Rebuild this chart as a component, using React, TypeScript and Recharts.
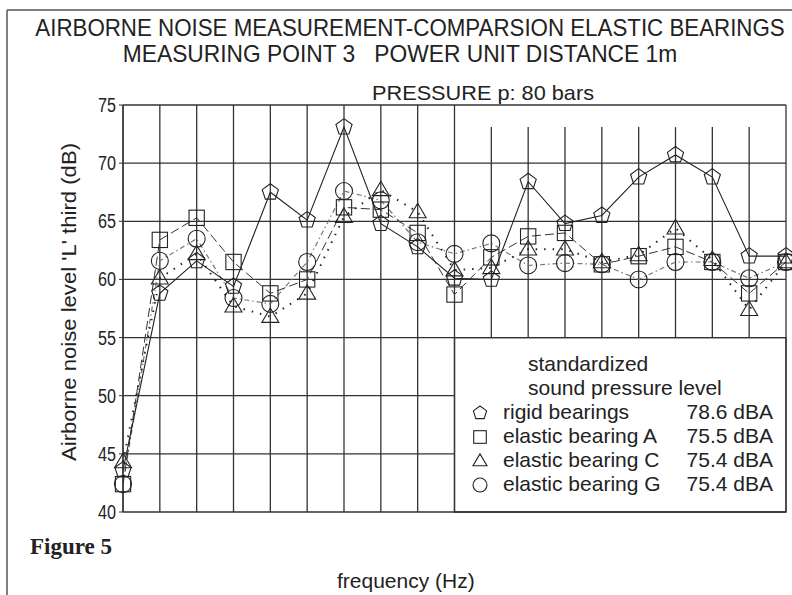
import React from 'react';
import { LineChart, Line, XAxis, YAxis, ReferenceLine, ReferenceArea } from 'recharts';

// third-octave band index (frequency axis is unlabeled in the reference)
const bands = ['1', '2', '3', '4', '5', '6', '7', '8', '9', '10', '11', '12', '13', '14', '15', '16', '17', '18', '19'];

const rigid = [43.6, 58.8, 61.6, 59.4, 67.5, 65.1, 73.1, 64.8, 62.8, 60.1, 60.0, 68.4, 64.8, 65.5, 68.8, 70.7, 68.8, 62.0, 62.0];
const bearingA = [42.4, 63.4, 65.3, 61.5, 58.8, 60.0, 66.2, 66.0, 64.0, 58.7, 61.9, 63.7, 64.0, 61.3, 62.0, 62.8, 61.5, 58.8, 61.5];
const bearingC = [44.3, 60.1, 62.2, 57.7, 56.8, 58.8, 65.4, 67.7, 65.8, 60.8, 61.0, 62.6, 62.6, 61.5, 62.1, 64.4, 61.7, 57.4, 61.5];
const bearingG = [42.4, 61.6, 63.5, 58.4, 57.9, 61.5, 67.6, 66.8, 63.2, 62.2, 63.1, 61.2, 61.4, 61.3, 60.0, 61.5, 61.5, 60.1, 61.5];

const yTicks = [40, 45, 50, 55, 60, 65, 70, 75];
const fullHLines = [55, 60, 65, 70, 75];
const shortHLines = [45, 50];

const legendNames = ['rigid bearings', 'elastic bearing A', 'elastic bearing C', 'elastic bearing G'];
const legendValues = ['78.6 dBA', '75.5 dBA', '75.4 dBA', '75.4 dBA'];
const legendShapes = ['pentagon', 'square', 'triangle', 'circle'];

const data = bands.map((b, i) => ({
  band: b,
  rigid: rigid[i],
  A: bearingA[i],
  C: bearingC[i],
  G: bearingG[i],
}));

const INK = '#222';
const FONT = '"Liberation Sans", Arial, sans-serif';

function Marker({ shape, cx, cy, r }: { shape: string; cx: number; cy: number; r: number }) {
  const common = { fill: 'none', stroke: INK, strokeWidth: 1.1 };
  if (shape === 'pentagon') {
    const pts = [0, 1, 2, 3, 4]
      .map((k) => {
        const a = -Math.PI / 2 + (k * 2 * Math.PI) / 5;
        return `${cx + r * Math.cos(a)},${cy + r * Math.sin(a)}`;
      })
      .join(' ');
    return <polygon points={pts} {...common} />;
  }
  if (shape === 'square') {
    return <rect x={cx - r * 0.9} y={cy - r * 0.9} width={r * 1.8} height={r * 1.8} {...common} />;
  }
  if (shape === 'triangle') {
    const h = r * 1.7;
    const pts = `${cx},${cy - h * 0.6} ${cx - r},${cy + h * 0.4} ${cx + r},${cy + h * 0.4}`;
    return <polygon points={pts} {...common} />;
  }
  return <circle cx={cx} cy={cy} r={r} {...common} />;
}

const makeDot = (shape: string) => (p: any) => (
  <Marker key={`${shape}-${p.index}`} shape={shape} cx={p.cx} cy={p.cy} r={8.5} />
);

const YTick = (props: any) => {
  const { x, y, payload } = props;
  return (
    <text x={x - 1} y={y + 7} textAnchor="end" fontFamily={FONT} fontSize={20} fill={INK}
      textLength={18} lengthAdjust="spacingAndGlyphs">
      {payload.value}
    </text>
  );
};

export default function App() {
  const gridStroke = '#333';
  return (
    <div style={{ position: 'absolute', left: 0, top: 0, width: 792, height: 595, background: '#fff' }}>
      <LineChart
        width={792}
        height={595}
        data={data}
        margin={{ top: 105, right: 6, bottom: 83, left: 83 }}
      >
        <XAxis dataKey="band" hide />
        <YAxis
          width={40}
          domain={[40, 75]}
          ticks={yTicks}
          type="number"
          allowDataOverflow
          tick={<YTick />}
          tickSize={4}
          tickLine={{ stroke: gridStroke }}
          axisLine={{ stroke: gridStroke, strokeWidth: 1.3 }}
        />
        {fullHLines.map((v) => (
          <ReferenceLine
            key={`h${v}`}
            segment={[{ x: bands[0], y: v }, { x: bands[bands.length - 1], y: v }]}
            stroke={gridStroke}
            strokeWidth={1.3}
          />
        ))}
        {shortHLines.map((v) => (
          <ReferenceLine
            key={`hs${v}`}
            segment={[{ x: bands[0], y: v }, { x: bands[9], y: v }]}
            stroke={gridStroke}
            strokeWidth={1.3}
          />
        ))}
        <ReferenceLine
          segment={[{ x: bands[0], y: 40 }, { x: bands[bands.length - 1], y: 40 }]}
          stroke={gridStroke}
          strokeWidth={1.3}
        />
        {bands.map((b, i) => {
          const inner = i >= 10 && i <= 17;
          return (
            <ReferenceLine
              key={`v${b}`}
              segment={[{ x: b, y: inner ? 73.1 : 75 }, { x: b, y: inner ? 55 : 40 }]}
              stroke={gridStroke}
              strokeWidth={1.3}
            />
          );
        })}
        <ReferenceArea
          x1={bands[9]}
          x2={bands[bands.length - 1]}
          y1={40}
          y2={55}
          fill="#fff"
          fillOpacity={1}
          stroke={gridStroke}
          strokeWidth={1.3}
        />
        <Line
          dataKey="G"
          stroke="#777"
          strokeWidth={1.2}
          strokeDasharray="5 3 1.5 3"
          dot={makeDot('circle')}
          isAnimationActive={false}
        />
        <Line
          dataKey="C"
          stroke={INK}
          strokeWidth={2}
          strokeDasharray="1.5 7"
          dot={makeDot('triangle')}
          isAnimationActive={false}
        />
        <Line
          dataKey="A"
          stroke="#333"
          strokeWidth={1}
          strokeDasharray="9 4"
          dot={makeDot('square')}
          isAnimationActive={false}
        />
        <Line
          dataKey="rigid"
          stroke={INK}
          strokeWidth={1.1}
          dot={makeDot('pentagon')}
          isAnimationActive={false}
        />
      </LineChart>

      <svg
        width={792}
        height={595}
        style={{ position: 'absolute', left: 0, top: 0, pointerEvents: 'none' }}
      >
        <line x1={7} y1={10} x2={7} y2={595} stroke="#555" strokeWidth={1.5} />
        <line x1={7} y1={10} x2={792} y2={10} stroke="#555" strokeWidth={1.5} />
        <g transform="translate(410,36) scale(0.93,1)">
          <text x={0} y={0} textAnchor="middle" fontFamily={FONT} fontSize={24} fill={INK}>
            AIRBORNE NOISE MEASUREMENT-COMPARSION ELASTIC BEARINGS
          </text>
        </g>
        <g transform="translate(400,62) scale(0.95,1)">
          <text x={0} y={0} textAnchor="middle" fontFamily={FONT} fontSize={24} fill={INK}
            style={{ whiteSpace: 'pre' }}>
            {'MEASURING POINT 3   POWER UNIT DISTANCE 1m'}
          </text>
        </g>
        <text x={372} y={100} fontFamily={FONT} fontSize={21} fill={INK}
          textLength={222} lengthAdjust="spacingAndGlyphs">
          PRESSURE p: 80 bars
        </text>
        <text
          x={0}
          y={0}
          transform="translate(76,302) rotate(-90)"
          textAnchor="middle"
          fontFamily={FONT}
          fontSize={21}
          fill={INK}
          textLength={318}
          lengthAdjust="spacingAndGlyphs"
        >
          Airborne noise level 'L' third (dB)
        </text>
        <text x={528} y={371} fontFamily={FONT} fontSize={21} fill={INK}>standardized</text>
        <text x={528} y={395} fontFamily={FONT} fontSize={21} fill={INK}>sound pressure level</text>
        {legendNames.map((n, i) => (
          <g key={n}>
            <Marker shape={legendShapes[i]} cx={480} cy={413 + i * 24} r={7} />
            <text x={503} y={419 + i * 24} fontFamily={FONT} fontSize={21} fill={INK}>{n}</text>
            <text x={773} y={419 + i * 24} textAnchor="end" fontFamily={FONT} fontSize={21} fill={INK}>
              {legendValues[i]}
            </text>
          </g>
        ))}
        <text x={30} y={554} fontFamily={'"Liberation Serif", "Times New Roman", serif'} fontWeight="bold" fontSize={23} fill={INK}>
          Figure 5
        </text>
        <text x={337} y={588} fontFamily={FONT} fontSize={21} fill={INK}>frequency (Hz)</text>
      </svg>
    </div>
  );
}
